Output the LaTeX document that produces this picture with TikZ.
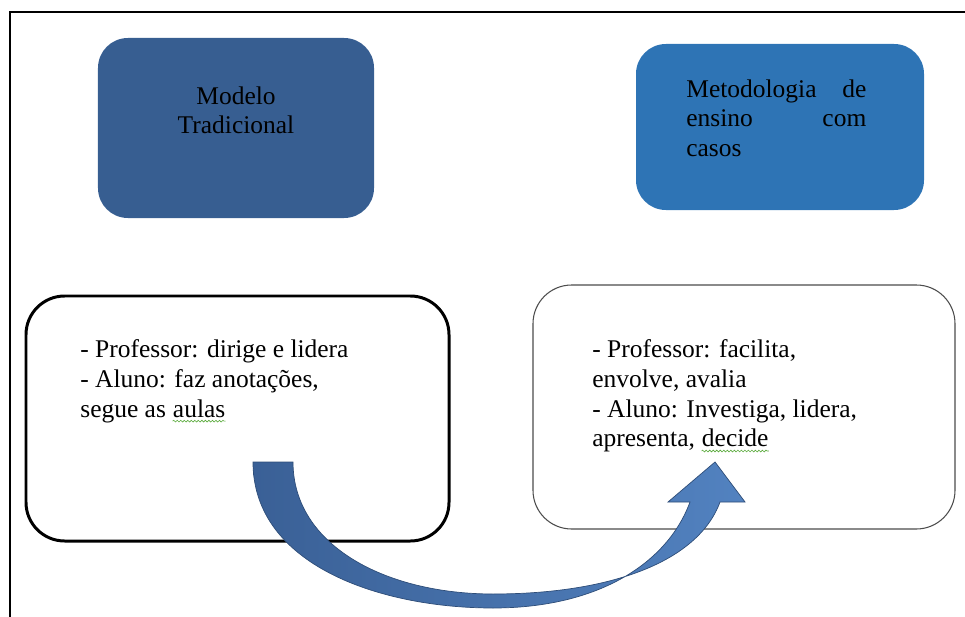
\documentclass[tikz,border=0pt]{standalone}
\usepackage{fontspec}
\setmainfont{Liberation Serif}
\usetikzlibrary{decorations.pathmorphing}
\definecolor{tradblue}{RGB}{55,94,145}
\definecolor{casoblue}{RGB}{46,116,181}
\definecolor{arrowdark}{RGB}{58,96,150}
\definecolor{arrowlight}{RGB}{82,130,192}
\definecolor{spellgreen}{RGB}{90,170,60}
\newcommand{\squig}[2]{\tikz[baseline=(#1.base)]{\node[inner sep=0pt, anchor=base, align=left] (#1) at (0,0) {#2};
  \draw[spellgreen, line width=0.35pt, decorate, decoration={snake, amplitude=0.5pt, segment length=2pt}]
    ([yshift=-2pt]#1.south west) -- ([yshift=-2pt]#1.south east);}}
\newcommand{\fullline}[1]{\leavevmode\hbox to 3.6cm{#1}}
\begin{document}
\begin{tikzpicture}[x=0.2mm, y=-0.2mm, font=\fontsize{14.5}{17}\selectfont,
  headbox/.style={rounded corners=17pt, draw=none, inner sep=0pt},
  listbox/.style={rounded corners=22pt, fill=white, inner sep=0pt},
  bigarrow/.style={draw=arrowdark!80!black, line width=0.4pt, left color=arrowdark, right color=arrowlight}]

\useasboundingbox (0,0) rectangle (965,617);
\draw[line width=0.9pt] (10,617) -- (10,12) -- (965,12);

% top boxes
\node[headbox, fill=tradblue, minimum width=5.52cm, minimum height=3.6cm] (trad) at (236,128) {};
\node[headbox, fill=casoblue, minimum width=5.76cm, minimum height=3.32cm] (casos) at (780,127) {};

\node[anchor=north, align=center, inner sep=0pt] (tradtxt) at (236,86) {Modelo\\Tradicional};
\node[anchor=north west, align=left, inner sep=0pt] (casostxt) at (686,79)
  {\fullline{Metodologia\hfill de}\\\fullline{ensino\hfill com}\\casos};

% bottom boxes
\node[listbox, draw=black, line width=1.7pt, minimum width=8.46cm, minimum height=4.9cm] (tradlist) at (237.5,418.5) {};
\node[listbox, draw=black!70, line width=0.6pt, minimum width=8.44cm, minimum height=4.88cm] (casoslist) at (744,407) {};

\node[anchor=north west, align=left, inner sep=0pt] (tradlisttxt) at (80,339)
  {- Professor: dirige e lidera\\- Aluno: faz anotações,\\segue as \squig{aulas}{aulas}};
\node[anchor=north west, align=left, inner sep=0pt] (casoslisttxt) at (592,339)
  {- Professor: facilita,\\envolve, avalia\\- Aluno: Investiga, lidera,\\apresenta, \squig{decide}{decide}};

% curved arrow
\draw[bigarrow] (253,462) .. controls (253,565) and (380,608) .. (493,608)
  .. controls (600,608) and (668,562) .. (690,502) -- (668,502) -- (715,462) -- (745,502) -- (720,502)
  .. controls (698,562) and (610,594) .. (493,594)
  .. controls (385,594) and (293,545) .. (293,462) -- cycle;
\end{tikzpicture}
\end{document}
